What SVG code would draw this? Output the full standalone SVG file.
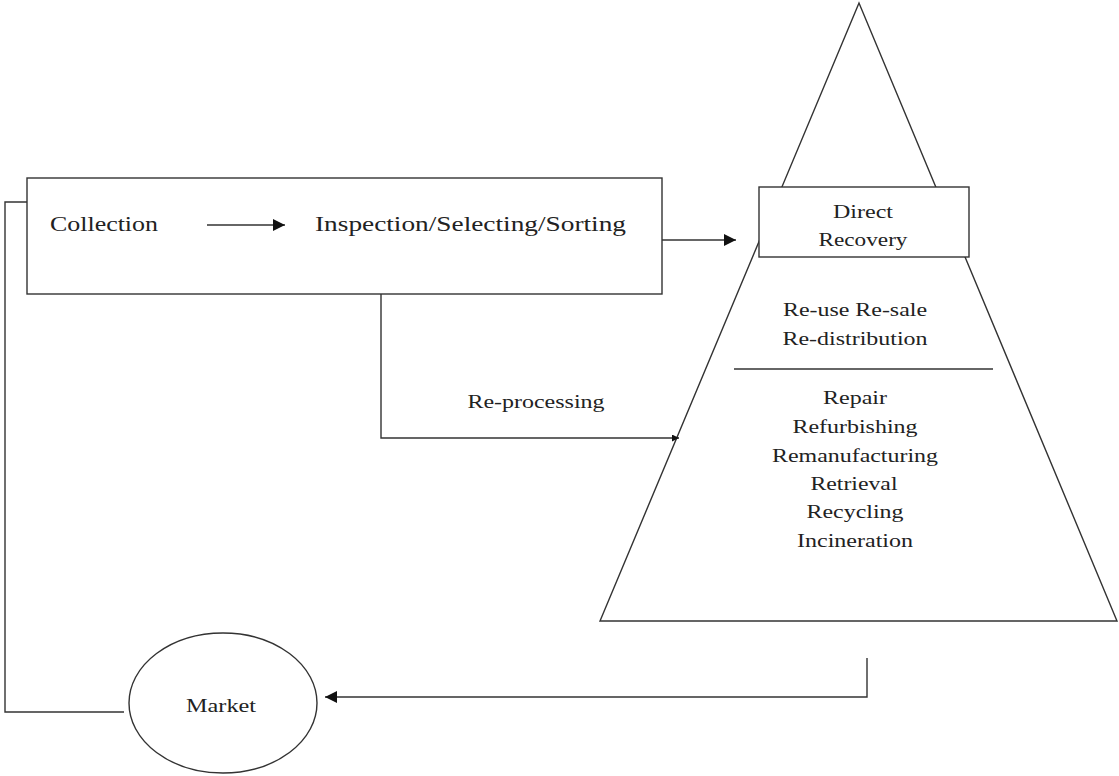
<svg xmlns="http://www.w3.org/2000/svg" width="1119" height="776" viewBox="0 0 1119 776">
<style>
.s{fill:none;stroke:#333;stroke-width:1.4}
.b{fill:#fff;stroke:#333;stroke-width:1.4}
text{font-family:"Liberation Serif","Times New Roman",serif;fill:#222}
.t{font-size:21px}
.p{font-size:19px;text-anchor:middle}
.m{font-size:19px;text-anchor:middle}
</style>
<defs>
<marker id="ah" viewBox="0 0 10 10" refX="10" refY="5" markerWidth="14" markerHeight="12" markerUnits="userSpaceOnUse" orient="auto">
<path d="M0,0 L10,5 L0,10 Z" fill="#111"/>
</marker>
<marker id="ahs" viewBox="0 0 10 10" refX="10" refY="5" markerWidth="8" markerHeight="7" markerUnits="userSpaceOnUse" orient="auto">
<path d="M0,0 L10,5 L0,10 Z" fill="#111"/>
</marker>
</defs>
<rect width="1119" height="776" fill="#fff"/>
<g id="pyramid">
<polygon class="b" points="859,3 600,621 1117,621"/>
<line class="s" x1="734" y1="369" x2="993" y2="369"/>
<text class="p" x="855" y="316" textLength="144" lengthAdjust="spacingAndGlyphs">Re-use Re-sale</text>
<text class="p" x="855" y="345" textLength="145" lengthAdjust="spacingAndGlyphs">Re-distribution</text>
<text class="p" x="855" y="404" textLength="64" lengthAdjust="spacingAndGlyphs">Repair</text>
<text class="p" x="855" y="433" textLength="125" lengthAdjust="spacingAndGlyphs">Refurbishing</text>
<text class="p" x="855" y="462" textLength="166" lengthAdjust="spacingAndGlyphs">Remanufacturing</text>
<text class="p" x="854" y="490" textLength="87" lengthAdjust="spacingAndGlyphs">Retrieval</text>
<text class="p" x="855" y="518" textLength="97" lengthAdjust="spacingAndGlyphs">Recycling</text>
<text class="p" x="855" y="547" textLength="116" lengthAdjust="spacingAndGlyphs">Incineration</text>
</g>
<g id="direct-recovery">
<rect class="b" x="759" y="187" width="210" height="70"/>
<text class="p" x="863" y="218" textLength="60" lengthAdjust="spacingAndGlyphs">Direct</text>
<text class="p" x="863" y="246" textLength="89" lengthAdjust="spacingAndGlyphs">Recovery</text>
</g>
<g id="collection-box">
<rect class="b" x="27" y="178" width="635" height="116"/>
<text class="t" x="50" y="231" textLength="108" lengthAdjust="spacingAndGlyphs">Collection</text>
<text class="t" x="315" y="231" textLength="311" lengthAdjust="spacingAndGlyphs">Inspection/Selecting/Sorting</text>
</g>
<g id="market">
<ellipse class="b" cx="223" cy="703" rx="94" ry="70"/>
<text class="m" x="221" y="712" textLength="70" lengthAdjust="spacingAndGlyphs">Market</text>
</g>
<g id="connectors">
<line class="s" x1="207" y1="225" x2="285" y2="225" marker-end="url(#ah)"/>
<line class="s" x1="662" y1="240" x2="736" y2="240" marker-end="url(#ah)"/>
<polyline class="s" points="381,294 381,438 679,438" marker-end="url(#ahs)"/>
<text class="p" x="536" y="408" textLength="137" lengthAdjust="spacingAndGlyphs">Re-processing</text>
<polyline class="s" points="867,658 867,697 325,697" marker-end="url(#ah)"/>
<polyline class="s" points="27,202 5,202 5,712 124,712"/>
</g>
</svg>
